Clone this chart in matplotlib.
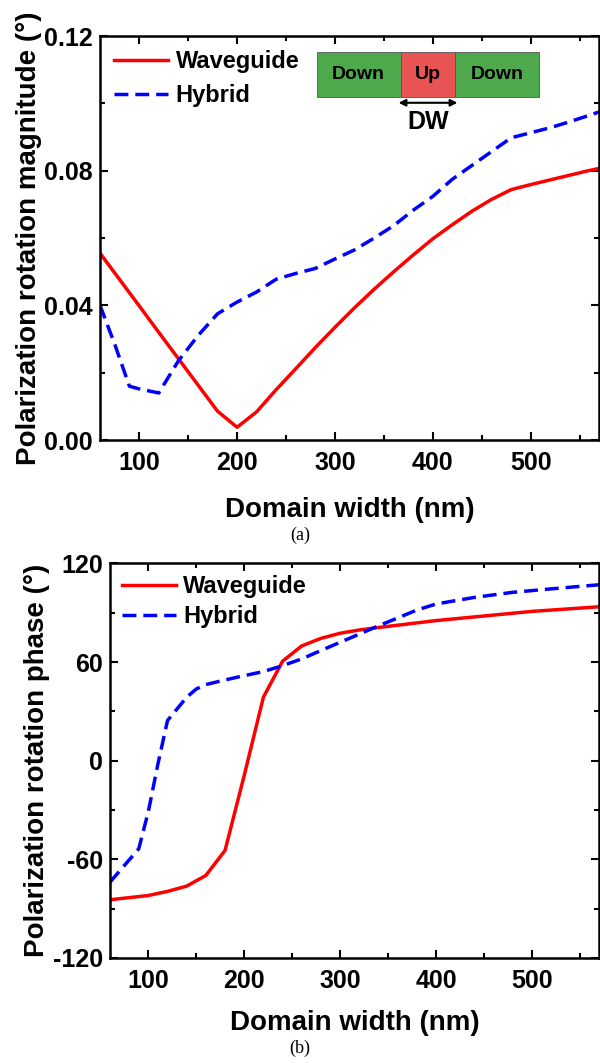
import numpy as np
import matplotlib.pyplot as plt
from matplotlib.patches import Rectangle
from matplotlib.ticker import MultipleLocator, FormatStrFormatter

plt.rcParams['font.family'] = ['Liberation Sans', 'DejaVu Sans']
plt.rcParams['font.weight'] = 'bold'
plt.rcParams['axes.labelweight'] = 'bold'
plt.rcParams['axes.unicode_minus'] = False

# (a) polarization rotation magnitude
wg_x_a = [60, 80, 100, 120, 140, 160, 180, 200, 220, 240, 260, 280, 300, 320, 340,
          360, 380, 400, 420, 440, 460, 480, 500, 520, 540, 560, 570]
wg_y_a = [0.0555, 0.0477, 0.0399, 0.032, 0.0242, 0.0164, 0.0086, 0.0038, 0.0084,
          0.0150, 0.0212, 0.0275, 0.0335, 0.0393, 0.0448, 0.0500, 0.0550, 0.0598,
          0.0640, 0.0680, 0.0715, 0.0744, 0.0759, 0.0773, 0.0787, 0.0801, 0.0807]
hy_x_a = [60, 75, 90, 100, 120, 140, 160, 180, 200, 220, 240, 260, 280, 300, 320,
          340, 360, 380, 400, 420, 440, 460, 480, 500, 520, 540, 560, 570]
hy_y_a = [0.040, 0.0285, 0.0160, 0.0152, 0.0140, 0.0235, 0.0310, 0.0375, 0.0410,
          0.0440, 0.0478, 0.0495, 0.0510, 0.0538, 0.0565, 0.0600, 0.0637, 0.0683,
          0.0724, 0.0775, 0.0816, 0.0857, 0.0898, 0.0913, 0.0928, 0.0946, 0.0965,
          0.0975]

# (b) polarization rotation phase
wg_x_b = [60, 100, 120, 140, 160, 180, 200, 220, 240, 260, 280, 300, 320, 340,
          400, 500, 570]
wg_y_b = [-84.6, -82, -79.5, -76.3, -69.8, -54.6, -9, 38.6, 60.5, 69.8, 74.4,
          77.5, 79.5, 81, 85.2, 90.8, 93.6]
hy_x_b = [60, 90, 100, 110, 120, 140, 150, 160, 180, 200, 220, 240, 260, 280,
          300, 320, 340, 360, 380, 400, 440, 480, 520, 570]
hy_y_b = [-73.9, -53.6, -31, -2, 24.4, 38.6, 43.6, 46.3, 49.1, 51.7, 54.2, 57.8,
          61.9, 67, 72, 77, 82, 86.8, 91.6, 95.3, 99.3, 102.4, 104.5, 107]

fs = 17
tfs = 18
lfs = 20

def style_axis(ax):
    ax.tick_params(which='both', direction='in', top=True, right=True,
                   width=1.5, labelsize=tfs)
    ax.tick_params(which='major', length=6)
    ax.tick_params(which='minor', length=3.5)
    ax.tick_params(axis='x', pad=8)
    ax.tick_params(axis='y', pad=5)
    for s in ax.spines.values():
        s.set_linewidth(1.8)
    ax.xaxis.set_major_locator(MultipleLocator(100))
    ax.xaxis.set_minor_locator(MultipleLocator(50))
    ax.set_xlim(60, 570)


fig = plt.figure(figsize=(6, 10.63), dpi=100)

ax1 = fig.add_axes([0.1667, 0.586, 0.832, 0.380])
ax1.plot(wg_x_a, wg_y_a, color='#ff0000', lw=2.5, label='Waveguide')
ax1.plot(hy_x_a, hy_y_a, color='#0000ff', lw=2.5, ls=(0, (4, 2)), label='Hybrid')
style_axis(ax1)
ax1.set_ylim(0, 0.12)
ax1.yaxis.set_major_locator(MultipleLocator(0.04))
ax1.yaxis.set_minor_locator(MultipleLocator(0.02))
ax1.yaxis.set_major_formatter(FormatStrFormatter('%.2f'))
ax1.set_xlabel('Domain width (nm)', fontsize=lfs, labelpad=16)
ax1.set_ylabel('Polarization rotation magnitude (°)', fontsize=lfs, labelpad=2)
ax1.legend(loc='upper left', frameon=False, fontsize=fs, handlelength=2.3,
           handletextpad=0.3, labelspacing=0.45, borderaxespad=0.2,
           borderpad=0.4)

# inset schematic
green = '#4ea84c'
red = '#e85454'
for x0, x1, c, t in [(0.434, 0.602, green, 'Down'), (0.602, 0.712, red, 'Up'),
                     (0.712, 0.880, green, 'Down')]:
    ax1.add_patch(Rectangle((x0, 0.849), x1 - x0, 0.111, transform=ax1.transAxes,
                            facecolor=c, edgecolor='#555555', lw=0.6))
    ax1.text((x0 + x1) / 2, 0.904, t, transform=ax1.transAxes, ha='center',
             va='center', fontsize=14, color='black')
ax1.annotate('', xy=(0.598, 0.835), xytext=(0.716, 0.835), xycoords='axes fraction',
             arrowprops=dict(arrowstyle='<|-|>', color='black', lw=1.5,
                             mutation_scale=10, shrinkA=0, shrinkB=0))
ax1.text(0.657, 0.787, 'DW', transform=ax1.transAxes, ha='center', va='center',
         fontsize=18)

ax2 = fig.add_axes([0.1833, 0.0988, 0.815, 0.3712])
ax2.plot(wg_x_b, wg_y_b, color='#ff0000', lw=2.5, label='Waveguide')
ax2.plot(hy_x_b, hy_y_b, color='#0000ff', lw=2.5, ls=(0, (4, 2)), label='Hybrid')
style_axis(ax2)
ax2.set_ylim(-120, 120)
ax2.yaxis.set_major_locator(MultipleLocator(60))
ax2.yaxis.set_minor_locator(MultipleLocator(30))
ax2.set_xlabel('Domain width (nm)', fontsize=lfs, labelpad=12)
ax2.set_ylabel('Polarization rotation phase (°)', fontsize=lfs, labelpad=2)
ax2.legend(loc='upper left', frameon=False, fontsize=fs, handlelength=2.3,
           handletextpad=0.3, labelspacing=0.3, borderaxespad=0.2,
           borderpad=0.3)

fig.text(0.5, 1 - 535 / 1063, '(a)', ha='center', va='center', fontsize=13,
         family='Liberation Serif', weight='normal')
fig.text(0.5, 1 - 1048 / 1063, '(b)', ha='center', va='center', fontsize=13,
         family='Liberation Serif', weight='normal')

fig.savefig('out.png', dpi=100)
